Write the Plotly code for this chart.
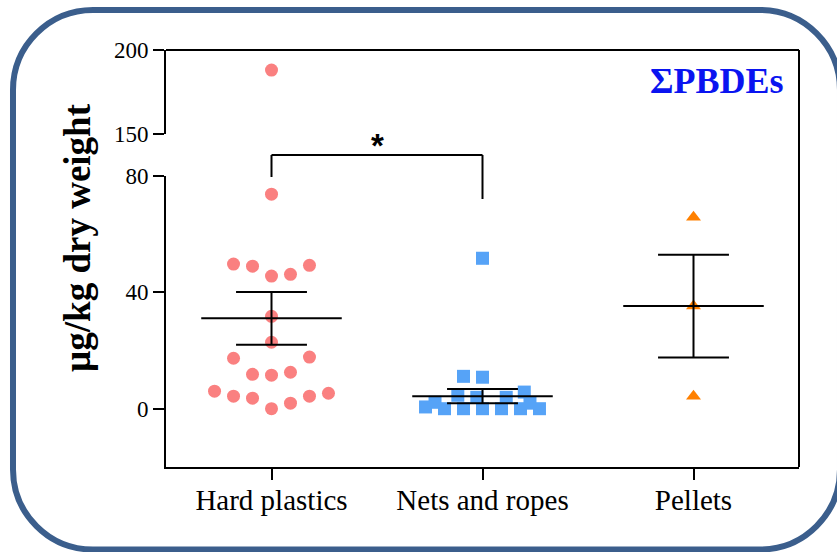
import plotly.graph_objects as go

# ---------------- data ----------------
categories = ["Hard plastics", "Nets and ropes", "Pellets"]

hard_vals = [188.1, 73.6, 49.6, 48.9, 45.5, 46.1, 49.2, 31.7, 22.8, 17.3, 17.7,
             11.8, 11.5, 12.5, 6.0, 4.3, 3.6, 0.0, 1.9, 4.3, 5.3]
nets_vals = [51.6, 11.1, 10.8, 5.7, 4.6, 3.9, 3.9, 2.2, 1.9, 0.6,
             0.0, 0.0, 0.0, 0.0, 0.0, 0.0]
pellet_vals = [65.7, 35.2, 4.3]

group_means = [31.0, 4.3, 35.2]
group_sems = [9.05, 2.45, 17.65]

lower_ticks = [0, 40, 80]
upper_ticks = [150, 200]

# ---------------- layout helpers (swarm slots, geometry) ----------------
hard_slots = [0, 0, -2, -1, 0, 1, 2, 0, 0, -2, 2, -1, 0, 1, -3, -2, -1, 0, 1, 2, 3]
nets_slots = [0, -1, 0, 2.2, -1.3, -0.3, 1.25, -2.5, 2.5, -3, -2, -1, 0, 1, 2, 3]
pellet_slots = [0, 0, 0]
SLOT = 0.09          # category units per swarm slot
BREAK = 80           # top of the lower axis segment

W, H = 837, 552
ML, MR, MT, MB = 166, 38, 50, 85
PW, PH = W - ML - MR, H - MT - MB
BOTTOM = H - MB


def pxx(p):
    return (p - ML) / PW


def pxy(p):
    return (BOTTOM - p) / PH


FONT = "Liberation Serif"

fig = go.Figure()

series = [
    (hard_vals, hard_slots, "circle", "#FA8080", 13),
    (nets_vals, nets_slots, "square", "#56A3F7", 13),
    (pellet_vals, pellet_slots, "triangle-up", "#FF8000", 13),
]

for i, (vals, slots, sym, col, size) in enumerate(series):
    xs_lo = [i + s * SLOT for v, s in zip(vals, slots) if v <= BREAK]
    ys_lo = [v for v in vals if v <= BREAK]
    xs_hi = [i + s * SLOT for v, s in zip(vals, slots) if v > BREAK]
    ys_hi = [v for v in vals if v > BREAK]
    mk = dict(symbol=sym, color=col, size=size, line=dict(width=0))
    fig.add_trace(go.Scatter(x=xs_lo, y=ys_lo, mode="markers", marker=mk,
                             yaxis="y", showlegend=False, hoverinfo="skip"))
    if ys_hi:
        fig.add_trace(go.Scatter(x=xs_hi, y=ys_hi, mode="markers", marker=mk,
                                 yaxis="y2", showlegend=False, hoverinfo="skip"))

# mean +/- SEM lines
MEAN_HW = 0.333
CAP_HW = 0.168
lx, ly = [], []
for i, (m, s) in enumerate(zip(group_means, group_sems)):
    lx += [i - MEAN_HW, i + MEAN_HW, None]
    ly += [m, m, None]
    lx += [i - CAP_HW, i + CAP_HW, None, i - CAP_HW, i + CAP_HW, None, i, i, None]
    ly += [m + s, m + s, None, m - s, m - s, None, m - s, m + s, None]
fig.add_trace(go.Scatter(x=lx, y=ly, mode="lines", line=dict(color="black", width=2),
                         yaxis="y", showlegend=False, hoverinfo="skip"))

shapes = []
# frame: top and right borders
shapes.append(dict(type="line", xref="paper", yref="paper", x0=0, x1=1, y0=1, y1=1,
                   line=dict(color="black", width=2)))
shapes.append(dict(type="line", xref="paper", yref="paper", x0=1, x1=1, y0=0, y1=1,
                   line=dict(color="black", width=2)))

# significance bracket between group 0 and group 1
br_y = pxy(155)
shapes.append(dict(type="line", xref="x", yref="paper", x0=0, x1=1, y0=br_y, y1=br_y,
                   line=dict(color="black", width=2)))
shapes.append(dict(type="line", xref="x", yref="paper", x0=0, x1=0, y0=br_y, y1=pxy(177),
                   line=dict(color="black", width=2)))
shapes.append(dict(type="line", xref="x", yref="paper", x0=1, x1=1, y0=br_y, y1=pxy(199),
                   line=dict(color="black", width=2)))

# rounded outer border
L, T, R, B, r = 13, 10, 840, 549.5, 80
k = 0.5523 * r


def P(x, y):
    return f"{pxx(x):.5f},{pxy(y):.5f}"


path = (f"M{P(L + r, T)} L{P(R - r, T)} "
        f"C{P(R - r + k, T)} {P(R, T + r - k)} {P(R, T + r)} "
        f"L{P(R, B - r)} "
        f"C{P(R, B - r + k)} {P(R - r + k, B)} {P(R - r, B)} "
        f"L{P(L + r, B)} "
        f"C{P(L + r - k, B)} {P(L, B - r + k)} {P(L, B - r)} "
        f"L{P(L, T + r)} "
        f"C{P(L, T + r - k)} {P(L + r - k, T)} {P(L + r, T)} Z")
shapes.append(dict(type="path", xref="paper", yref="paper", path=path,
                   line=dict(color="#3B5E8C", width=6), layer="above"))

annotations = [
    dict(text="<b>*</b>", x=0.5, xref="x", y=pxy(145), yref="paper", showarrow=False,
         font=dict(family="Liberation Sans", size=33, color="black"),
         xanchor="center", yanchor="middle"),
    dict(text="<b>ΣPBDEs</b>", x=pxx(786), y=pxy(81), xref="paper", yref="paper",
         showarrow=False, xanchor="right", yanchor="middle",
         font=dict(family=FONT, size=36, color="#0A14F0")),
    dict(text="<b>µg/kg dry weight</b>", x=pxx(77), y=pxy(238), xref="paper",
         yref="paper", showarrow=False, textangle=-90, xanchor="center",
         yanchor="middle", font=dict(family=FONT, size=37, color="black")),
]

axis_common = dict(showline=True, linecolor="black", linewidth=2, ticks="outside",
                   ticklen=11, tickwidth=2, tickcolor="black", showgrid=False,
                   zeroline=False, tickfont=dict(family=FONT, size=23, color="black"))

fig.update_layout(
    width=W, height=H,
    margin=dict(l=ML, r=MR, t=MT, b=MB),
    paper_bgcolor="white", plot_bgcolor="white",
    xaxis=dict(range=[-0.5, 2.5], tickvals=[0, 1, 2], ticktext=categories,
               ticklabelstandoff=-5,
               **{**axis_common, "tickfont": dict(family=FONT, size=29, color="black")}),
    yaxis=dict(range=[-20, 80], domain=[0, pxy(175.5)], tickvals=lower_ticks,
               anchor="x", **axis_common),
    yaxis2=dict(range=[150, 200], domain=[pxy(134.3), 1], tickvals=upper_ticks,
                anchor="x", **axis_common),
    shapes=shapes,
    annotations=annotations,
    showlegend=False,
)

fig.write_html("out.html")
